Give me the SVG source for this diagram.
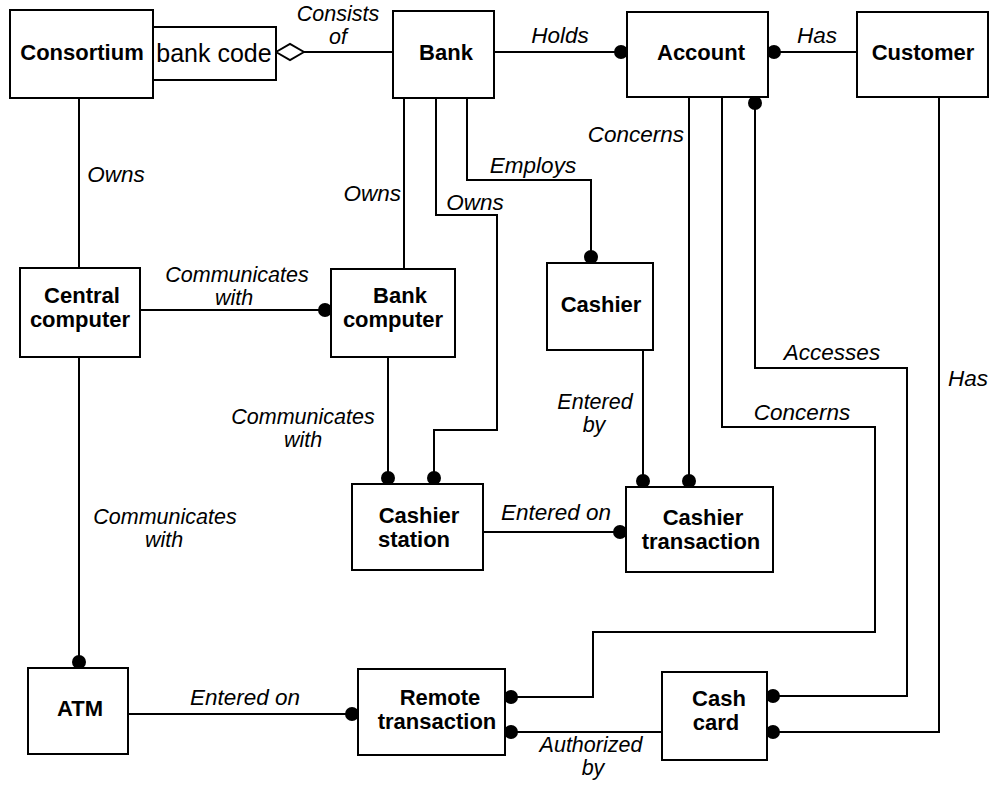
<svg xmlns="http://www.w3.org/2000/svg" width="996" height="786" viewBox="0 0 996 786">
<style>
.box{fill:#fff;stroke:#000;stroke-width:2}
.n{font-family:"Liberation Sans",Arial,sans-serif;font-weight:bold;font-size:22px;text-anchor:middle;fill:#000}
.q{font-family:"Liberation Sans",Arial,sans-serif;font-size:25px;text-anchor:middle;fill:#000}
.l{font-family:"Liberation Sans",Arial,sans-serif;font-style:italic;font-size:22.5px;text-anchor:middle;fill:#000}
.l2{font-size:21.5px}
.c{fill:none;stroke:#000;stroke-width:2}
.d{marker-end:url(#dot)}
</style>
<defs>
<marker id="dot" markerWidth="16" markerHeight="16" refX="14" refY="8" orient="auto" markerUnits="userSpaceOnUse"><circle cx="8" cy="8" r="7" fill="#000"/></marker>
<marker id="dotS" markerWidth="16" markerHeight="16" refX="14" refY="8" orient="auto-start-reverse" markerUnits="userSpaceOnUse"><circle cx="8" cy="8" r="7" fill="#000"/></marker>
<marker id="dia" markerWidth="30" markerHeight="20" refX="29" refY="10" orient="auto" markerUnits="userSpaceOnUse"><polygon points="1,10 15,2 29,10 15,18" fill="#fff" stroke="#000" stroke-width="2"/></marker>
</defs>
<g id="connectors">
<path class="c" d="M393,52 H276" marker-end="url(#dia)"/>
<path class="c d" d="M494,52 H627"/>
<path class="c d" d="M857,52 H768"/>
<path class="c" d="M79,98 V268"/>
<path class="c" d="M404,98 V269"/>
<path class="c d" d="M436,98 V215 H497 V430 H434 V484"/>
<path class="c d" d="M467,98 V180 H591 V263"/>
<path class="c d" d="M140,310 H331"/>
<path class="c d" d="M388,357 V484"/>
<path class="c d" d="M79,357 V668"/>
<path class="c d" d="M643,350 V487"/>
<path class="c d" d="M689,97 V487"/>
<path class="c d" d="M483,532 H626"/>
<path class="c d" d="M722,97 V427 H875 V632 H593 V697 H505"/>
<path class="c d" d="M755,97 V368 H907 V696 H767" marker-start="url(#dotS)"/>
<path class="c d" d="M939,97 V732 H767"/>
<path class="c d" d="M128,714 H358"/>
<path class="c d" d="M662,732 H505"/>
<text class="l l2"><tspan x="338" y="21">Consists</tspan><tspan x="338" y="44">of</tspan></text>
<text class="l" x="560" y="43">Holds</text>
<text class="l" x="817" y="43">Has</text>
<text class="l" x="116" y="182">Owns</text>
<text class="l" x="401" y="201" style="text-anchor:end">Owns</text>
<text class="l" x="475" y="210">Owns</text>
<text class="l" x="533" y="173">Employs</text>
<text class="l" x="684" y="142" style="text-anchor:end">Concerns</text>
<text class="l l2"><tspan x="237" y="282">Communicates</tspan><tspan x="234" y="305">with</tspan></text>
<text class="l" x="832" y="360">Accesses</text>
<text class="l" x="968" y="386">Has</text>
<text class="l l2"><tspan x="595" y="409">Entered</tspan><tspan x="594" y="432">by</tspan></text>
<text class="l" x="802" y="420">Concerns</text>
<text class="l l2"><tspan x="303" y="424">Communicates</tspan><tspan x="303" y="447">with</tspan></text>
<text class="l" x="556" y="520">Entered on</text>
<text class="l l2"><tspan x="165" y="524">Communicates</tspan><tspan x="164" y="547">with</tspan></text>
<text class="l" x="245" y="705">Entered on</text>
<text class="l l2"><tspan x="591" y="752">Authorized</tspan><tspan x="593" y="775">by</tspan></text>
</g>
<g id="consortium">
<rect class="box" x="10" y="10" width="143" height="88"/>
<text class="n" x="82" y="60">Consortium</text>
<rect class="box" x="153" y="27" width="123" height="53"/>
<text class="q" x="214" y="62">bank code</text>
</g>
<g id="bank"><rect class="box" x="393" y="11" width="101" height="87"/><text class="n" x="446" y="60">Bank</text></g>
<g id="account"><rect class="box" x="627" y="12" width="141" height="85"/><text class="n" x="701" y="60">Account</text></g>
<g id="customer"><rect class="box" x="857" y="12" width="131" height="85"/><text class="n" x="923" y="60">Customer</text></g>
<g id="central-computer"><rect class="box" x="20" y="268" width="120" height="89"/><text class="n"><tspan x="82" y="303">Central</tspan><tspan x="80" y="327">computer</tspan></text></g>
<g id="bank-computer"><rect class="box" x="331" y="269" width="124" height="88"/><text class="n"><tspan x="400" y="303">Bank</tspan><tspan x="393" y="327">computer</tspan></text></g>
<g id="cashier"><rect class="box" x="547" y="263" width="106" height="87"/><text class="n" x="601" y="312">Cashier</text></g>
<g id="cashier-station"><rect class="box" x="352" y="484" width="131" height="86"/><text class="n"><tspan x="419" y="523">Cashier</tspan><tspan x="414" y="547">station</tspan></text></g>
<g id="cashier-transaction"><rect class="box" x="626" y="487" width="147" height="85"/><text class="n"><tspan x="703" y="525">Cashier</tspan><tspan x="701" y="549">transaction</tspan></text></g>
<g id="atm"><rect class="box" x="28" y="668" width="100" height="86"/><text class="n" x="80" y="716">ATM</text></g>
<g id="remote-transaction"><rect class="box" x="358" y="669" width="147" height="86"/><text class="n"><tspan x="440" y="705">Remote</tspan><tspan x="437" y="729">transaction</tspan></text></g>
<g id="cash-card"><rect class="box" x="662" y="672" width="105" height="88"/><text class="n"><tspan x="719" y="706">Cash</tspan><tspan x="716" y="730">card</tspan></text></g>
</svg>
